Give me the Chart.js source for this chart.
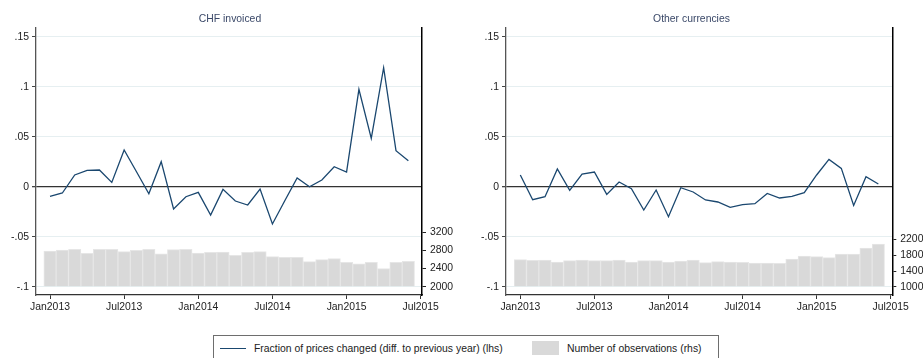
<!DOCTYPE html>
<html>
<head>
<meta charset="utf-8">
<script src="https://cdn.jsdelivr.net/npm/chart.js@4.4.1/dist/chart.umd.min.js"></script>
<style>
    body { margin: 0; background: #fff; width: 923px; height: 358px; overflow: hidden; position: relative; font-family: "Liberation Sans", Arial, sans-serif; }
    canvas { position: absolute; top: 0; }
    #chf-chart { left: 0; }
    #other-chart { left: 460px; }
    #legend { position: absolute; left: 213px; top: 335px; width: 506px; height: 30px; border: 1px solid #6e6e6e; box-sizing: border-box; font-size: 10.4px; color: #222; }
    #legend .item { position: absolute; top: 6px; line-height: 14px; white-space: nowrap; }
    #legend .line-key { position: absolute; left: 6px; top: 12px; width: 26px; height: 1.3px; background: #1a476f; }
    #legend .bar-key { position: absolute; left: 318px; top: 5px; width: 27px; height: 14px; background: #d9d9d9; }
</style>
</head>
<body>
<canvas id="chf-chart" width="460" height="318"></canvas>
<canvas id="other-chart" width="463" height="318"></canvas>
<div id="legend">
    <span class="line-key"></span><span class="item" id="line-label" style="left:40px"></span>
    <span class="bar-key"></span><span class="item" id="bar-label" style="left:353px"></span>
</div>
<script>
// Monatsreihe Jan2013 - Jun2015
const months = ['Jan2013', 'Feb2013', 'Mar2013', 'Apr2013', 'May2013', 'Jun2013', 'Jul2013', 'Aug2013', 'Sep2013', 'Oct2013',
    'Nov2013', 'Dec2013', 'Jan2014', 'Feb2014', 'Mar2014', 'Apr2014', 'May2014', 'Jun2014', 'Jul2014', 'Aug2014',
    'Sep2014', 'Oct2014', 'Nov2014', 'Dec2014', 'Jan2015', 'Feb2015', 'Mar2015', 'Apr2015', 'May2015', 'Jun2015'];

// Anteil Preisänderungen (lhs)
const chfShare = [-0.0097, -0.0063, 0.0117, 0.0163, 0.0167, 0.0043, 0.0367, 0.015, -0.007, 0.025,
    -0.0223, -0.01, -0.0057, -0.0283, -0.0027, -0.0143, -0.0183, -0.0023, -0.0373, -0.014,
    0.0087, 0, 0.0067, 0.02, 0.0147, 0.0973, 0.0483, 0.119, 0.036, 0.026];
const otherShare = [0.0117, -0.013, -0.01, 0.0177, -0.0037, 0.0127, 0.0147, -0.0077, 0.0047, -0.002,
    -0.0233, -0.0033, -0.03, -0.001, -0.0053, -0.0133, -0.0153, -0.0207, -0.018, -0.017,
    -0.0067, -0.0113, -0.0097, -0.006, 0.0117, 0.0273, 0.0183, -0.0187, 0.01, 0.0027];

// Anzahl Beobachtungen (rhs)
const chfObs = [2785, 2806, 2822, 2734, 2822, 2822, 2770, 2800, 2822, 2720,
    2815, 2822, 2740, 2755, 2760, 2690, 2755, 2770, 2660, 2645,
    2645, 2550, 2595, 2620, 2535, 2500, 2535, 2400, 2535, 2555];
const otherObs = [1689, 1672, 1680, 1630, 1663, 1680, 1663, 1663, 1680, 1630,
    1663, 1663, 1630, 1655, 1680, 1613, 1638, 1630, 1621, 1604,
    1604, 1596, 1706, 1782, 1765, 1740, 1833, 1833, 1986, 2088];

// Achsenbeschriftungen
const xTickPos = [0, 6, 12, 18, 24, 30];
const xTickLabels = ['Jan2013', 'Jul2013', 'Jan2014', 'Jul2014', 'Jan2015', 'Jul2015'];
const shareTicks = [-0.1, -0.05, 0, 0.05, 0.1, 0.15];
const chfObsTicks = [2000, 2400, 2800, 3200];
const otherObsTicks = [1000, 1400, 1800, 2200];

const lineLabel = 'Fraction of prices changed (diff. to previous year) (lhs)';
const barLabel = 'Number of observations (rhs)';

const navy = '#1a476f';
const textColor = '#222';
const fontSize = 10.4;

Chart.defaults.font.family = '"Liberation Sans", Arial, sans-serif';
Chart.defaults.font.size = fontSize;
Chart.defaults.color = textColor;

// Stata-Format: .15, -.05, 0
function stataNum(v) {
    return String(+v.toFixed(3)).replace(/^(-?)0\./, '$1.');
}

function buildChart(id, title, share, obs, obsTicks, cfg) {
    const ctx = document.getElementById(id).getContext('2d');
    return new Chart(ctx, {
        data: {
            datasets: [
                {
                    type: 'line',
                    label: lineLabel,
                    data: share.map((v, i) => ({ x: i, y: v })),
                    borderColor: navy,
                    borderWidth: 1.3,
                    pointRadius: 0,
                    tension: 0,
                    yAxisID: 'y',
                    order: 0
                },
                {
                    type: 'bar',
                    label: barLabel,
                    data: obs.map((v, i) => ({ x: i, y: v })),
                    base: obsTicks[0],
                    backgroundColor: '#d9d9d9',
                    borderColor: '#e6e6e6',
                    borderWidth: 1,
                    categoryPercentage: 1,
                    barPercentage: 1,
                    yAxisID: 'y2',
                    order: 1
                }
            ]
        },
        options: {
            responsive: false,
            animation: false,
            layout: { padding: 0 },
            plugins: {
                legend: { display: false },
                tooltip: { enabled: false },
                title: {
                    display: true,
                    text: title,
                    color: '#3a4868',
                    font: { size: fontSize, weight: 'normal' },
                    padding: { top: 12.76, bottom: 2.76 }
                }
            },
            scales: {
                x: {
                    type: 'linear',
                    offset: false,
                    min: cfg.xMin,
                    max: cfg.xMax,
                    afterBuildTicks: s => { s.ticks = xTickPos.map(v => ({ value: v })); },
                    afterFit: s => { s.height = 23; },
                    ticks: {
                        autoSkip: false,
                        maxRotation: 0,
                        padding: 2,
                        callback: (v, i) => xTickLabels[i]
                    },
                    grid: { offset: false, drawOnChartArea: false, drawTicks: true, tickLength: 4, tickColor: '#333' },
                    border: { display: true, color: '#333', width: 1.3 }
                },
                y: {
                    position: 'left',
                    min: -0.1083,
                    max: 0.1587,
                    afterBuildTicks: s => { s.ticks = shareTicks.map(v => ({ value: v })); },
                    afterFit: s => { s.width = cfg.leftWidth; },
                    ticks: { padding: 3, callback: v => stataNum(v) },
                    grid: {
                        color: c => (c.tick && c.tick.value === 0) ? '#333' : '#e6eff1',
                        lineWidth: c => (c.tick && c.tick.value === 0) ? 1.3 : 1,
                        tickLength: 4,
                        tickColor: '#444'
                    },
                    border: { color: '#555', width: 1.3 }
                },
                y2: {
                    position: 'right',
                    min: cfg.obsMin,
                    max: cfg.obsMax,
                    afterBuildTicks: s => { s.ticks = obsTicks.map(v => ({ value: v })); },
                    afterFit: s => { s.width = cfg.rightWidth; },
                    ticks: { padding: 4, callback: v => String(v) },
                    grid: { drawOnChartArea: false, tickLength: 4, tickColor: '#222' },
                    border: { color: '#000', width: 1.5 }
                }
            }
        }
    });
}

buildChart('chf-chart', 'CHF invoiced', chfShare, chfObs, chfObsTicks,
    { xMin: -1.133, xMax: 30.105, leftWidth: 36, rightWidth: 38, obsMin: 1817, obsMax: 7685 });
buildChart('other-chart', 'Other currencies', otherShare, otherObs, otherObsTicks,
    { xMin: -1.16, xMax: 30.13, leftWidth: 46, rightWidth: 30.7, obsMin: 789, obsMax: 7592 });

document.getElementById('line-label').textContent = lineLabel;
document.getElementById('bar-label').textContent = barLabel;
</script>
</body>
</html>
